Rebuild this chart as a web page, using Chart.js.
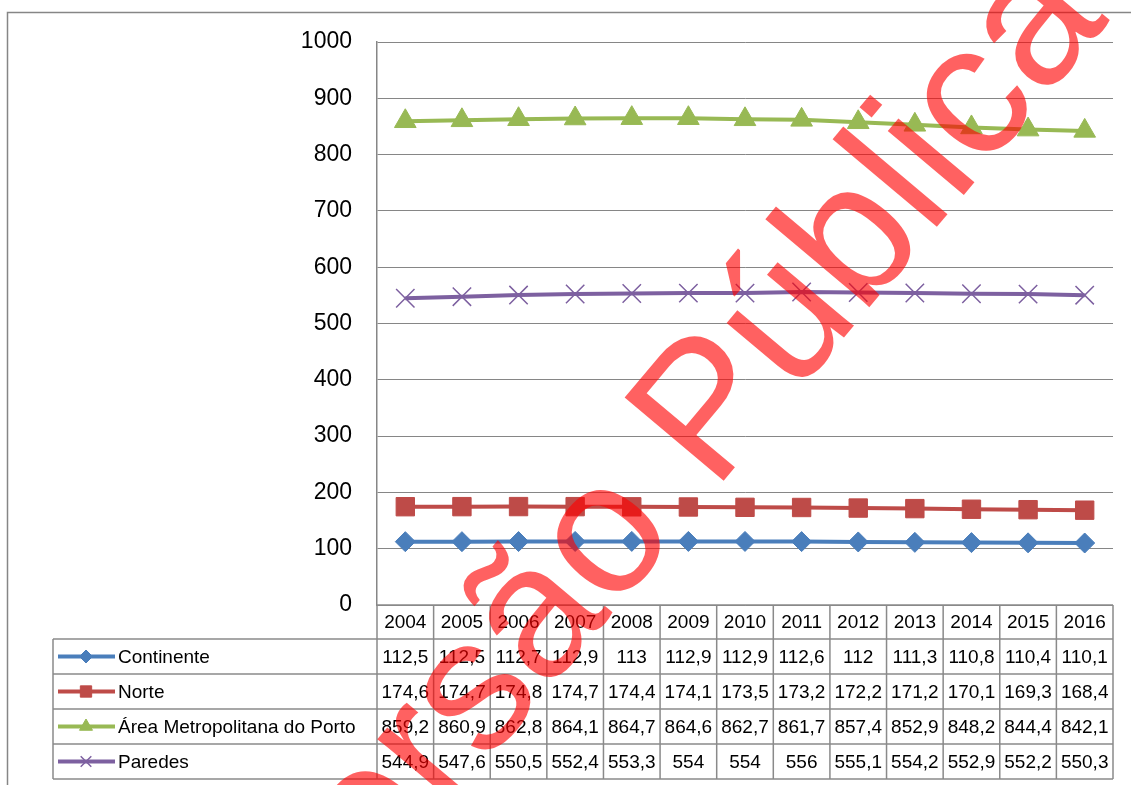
<!DOCTYPE html>
<html><head><meta charset="utf-8">
<script src="https://cdn.jsdelivr.net/npm/chart.js@4/dist/chart.umd.min.js"></script>
<style>html,body{margin:0;padding:0;background:#fff;overflow:hidden}</style>
</head><body>
<canvas id="c" width="1131" height="785" style="display:block"></canvas>
<script>
const years = ['2004','2005','2006','2007','2008','2009','2010','2011','2012','2013','2014','2015','2016'];
const continente = [112.5,112.5,112.7,112.9,113,112.9,112.9,112.6,112,111.3,110.8,110.4,110.1];
const norte = [174.6,174.7,174.8,174.7,174.4,174.1,173.5,173.2,172.2,171.2,170.1,169.3,168.4];
const areaMetro = [859.2,860.9,862.8,864.1,864.7,864.6,862.7,861.7,857.4,852.9,848.2,844.4,842.1];
const paredes = [544.9,547.6,550.5,552.4,553.3,554,554,556,555.1,554.2,552.9,552.2,550.3];
const seriesNames = ['Continente','Norte','Área Metropolitana do Porto','Paredes'];
const yMin = 0, yMax = 1000, yStep = 100;
const watermarkText = 'Versão Pública';

const colors = ['#4A7EBB','#BE4B48','#98B954','#7D60A0'];
const styles = ['rectRot','rect','triangle','crossRot'];
const radii = [10,13,12.5,13];
const keyRadii = [6.5,8,7.5,7.5];
const seriesData = [continente, norte, areaMetro, paredes];

const fmt = v => String(v).replace('.', ',');
const GRID = '#868686';
const TABLE = '#8a8a8a';
const TFONT = '19px "Liberation Sans", Arial, sans-serif';

function drawMarker(ctx, style, r, x, y, color, bw) {
  if (Chart.helpers && Chart.helpers.drawPoint) {
    ctx.save();
    ctx.fillStyle = color; ctx.strokeStyle = color; ctx.lineWidth = bw;
    Chart.helpers.drawPoint(ctx, {pointStyle: style, radius: r, borderWidth: bw, rotation: 0}, x, y);
    ctx.restore();
  }
}

const tablePlugin = {
  id: 'tablePlugin',
  beforeDraw(chart) {
    const ctx = chart.ctx;
    ctx.save();
    ctx.fillStyle = '#fff';
    ctx.fillRect(0, 0, chart.width, chart.height);
    ctx.strokeStyle = GRID; ctx.lineWidth = 1.5;
    ctx.strokeRect(7.5, 12.5, 1200, 900);
    ctx.restore();
  },
  afterDraw(chart) {
    const ctx = chart.ctx;
    const x = chart.scales.x;
    const area = chart.chartArea;
    const n = years.length;
    const colW = (area.right - area.left) / n;
    const top = area.bottom;
    const headerH = 34, rowH = 35;
    const tableLeft = 53;
    const bottom = top + headerH + rowH * seriesNames.length;
    ctx.save();
    ctx.strokeStyle = TABLE; ctx.lineWidth = 1.5;
    ctx.beginPath();
    ctx.moveTo(area.left, top); ctx.lineTo(area.right, top);
    for (let r = 0; r <= seriesNames.length; r++) {
      const yy = top + headerH + r * rowH;
      ctx.moveTo(tableLeft, yy); ctx.lineTo(area.right, yy);
    }
    ctx.moveTo(tableLeft, top + headerH); ctx.lineTo(tableLeft, bottom);
    for (let i = 0; i <= n; i++) {
      const cx = (i < n ? x.getPixelForValue(i) - colW / 2 : x.getPixelForValue(n - 1) + colW / 2);
      ctx.moveTo(cx, top); ctx.lineTo(cx, bottom);
    }
    ctx.stroke();
    ctx.fillStyle = '#000';
    ctx.font = TFONT;
    ctx.textAlign = 'center'; ctx.textBaseline = 'middle';
    for (let i = 0; i < n; i++) {
      const cx = x.getPixelForValue(i);
      ctx.fillText(years[i], cx, top + headerH / 2 + 1);
      for (let s = 0; s < seriesNames.length; s++) {
        ctx.fillText(fmt(seriesData[s][i]), cx, top + headerH + s * rowH + rowH / 2 + 1);
      }
    }
    ctx.textAlign = 'left';
    for (let s = 0; s < seriesNames.length; s++) {
      const cy = top + headerH + s * rowH + rowH / 2;
      ctx.strokeStyle = colors[s]; ctx.lineWidth = 4; ctx.lineCap = 'butt';
      ctx.beginPath(); ctx.moveTo(58, cy); ctx.lineTo(115, cy); ctx.stroke();
      drawMarker(ctx, styles[s], keyRadii[s], 86, cy, colors[s], s === 3 ? 1.5 : 1);
      ctx.fillStyle = '#000';
      ctx.fillText(seriesNames[s], 118, cy + 1);
    }
    // watermark
    ctx.save();
    ctx.translate(304, 981);
    ctx.rotate(-50 * Math.PI / 180);
    ctx.font = '188px "Liberation Sans", Arial, sans-serif';
    ctx.fillStyle = 'rgba(255,0,0,0.62)';
    ctx.textAlign = 'left'; ctx.textBaseline = 'alphabetic';
    ctx.fillText(watermarkText, 0, 0);
    ctx.restore();
    ctx.restore();
  }
};

new Chart(document.getElementById('c'), {
  type: 'line',
  data: {
    labels: years,
    datasets: seriesNames.map((name, s) => ({
      label: name,
      data: seriesData[s],
      borderColor: colors[s],
      backgroundColor: colors[s],
      borderWidth: 4,
      pointStyle: styles[s],
      pointRadius: radii[s],
      pointHoverRadius: radii[s],
      pointBackgroundColor: colors[s],
      pointBorderColor: colors[s],
      pointBorderWidth: s === 3 ? 1.5 : 1,
      tension: 0,
      fill: false,
      order: seriesNames.length - s
    }))
  },
  options: {
    responsive: false,
    animation: false,
    events: [],
    layout: {padding: {left: 0, right: 18, top: 42, bottom: 180}},
    plugins: {legend: {display: false}, tooltip: {enabled: false}, title: {display: false}},
    scales: {
      x: {type: 'category', offset: true, display: false},
      y: {
        min: yMin, max: yMax,
        ticks: {stepSize: yStep, color: '#000', padding: 25,
          callback: v => String(v),
          font: {family: '"Liberation Sans", Arial, sans-serif', size: 23}},
        grid: {color: GRID, lineWidth: 1, drawTicks: false},
        border: {display: true, color: GRID, width: 1.5},
        afterFit(scale) { scale.width = 377; }
      }
    }
  },
  plugins: [tablePlugin]
});
</script>
</body></html>
